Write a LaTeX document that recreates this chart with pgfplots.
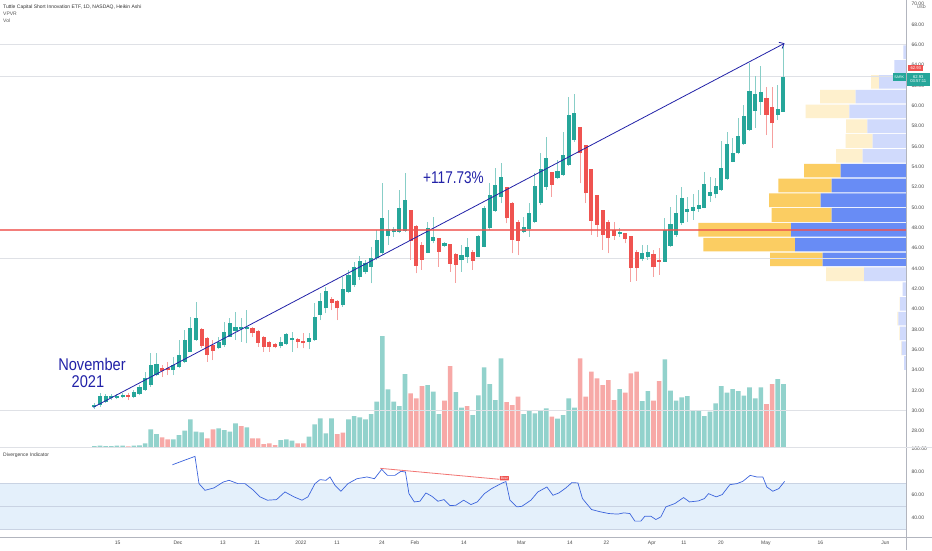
\documentclass[border=0pt]{standalone}
\usepackage{fontspec}
\setmainfont{Liberation Sans}
\usepackage{pgfplots}
\pgfplotsset{compat=1.18}
\usepackage{pgfplotstable}
\usetikzlibrary{arrows.meta}

\definecolor{tvgreen}{HTML}{26A69A}
\definecolor{tvred}{HTML}{EF5350}
\definecolor{volteal}{HTML}{92D2CC}
\definecolor{volpink}{HTML}{F7A9A7}
\definecolor{trendblue}{HTML}{2222A8}
\definecolor{indblue}{HTML}{3C64DC}
\definecolor{bandblue}{HTML}{E4F0FB}
\definecolor{bandline}{HTML}{C9D3E3}
\definecolor{vpbd}{HTML}{688CF5}
\definecolor{vpbl}{HTML}{D0DAFC}
\definecolor{vpyd}{HTML}{FBCD62}
\definecolor{vpyl}{HTML}{FEF0CD}
\definecolor{lgrey}{HTML}{DFE1E6}
\definecolor{axgrey}{HTML}{B2B5BE}
\definecolor{lblgrey}{HTML}{4A4A4A}

\newcommand{\tv}{\fontsize{5}{6}\selectfont}

% i lo hi bodylo bodyhi
\pgfplotstableread{
i lo hi bl bh
0 30.21 30.74 30.34 30.57
1 30.41 31.72 30.57 31.46
2 30.80 31.65 30.90 31.46
3 31.06 31.65 31.23 31.46
4 31.13 31.65 31.29 31.46
5 31.23 31.72 31.39 31.56
7 31.23 32.05 31.39 31.88
8 31.52 32.54 31.65 32.38
9 31.98 33.85 32.05 33.19
10 32.38 35.65 32.54 34.51
11 33.42 35.65 33.52 34.60
14 33.52 35.32 34.01 34.51
15 34.18 36.96 34.28 35.49
16 34.67 37.95 34.83 36.96
17 35.82 39.26 35.82 38.11
18 36.90 40.73 36.96 39.09
22 36.05 37.29 36.14 36.80
23 36.31 38.77 36.47 37.78
24 37.23 39.09 37.29 38.60
25 36.96 39.75 37.88 38.27
26 36.80 39.09 38.01 38.21
27 36.64 39.91 38.01 38.27
33 36.14 37.29 36.37 36.80
34 36.47 37.62 36.57 37.55
35 35.82 37.78 36.96 37.13
38 36.05 37.62 36.80 37.13
39 36.90 40.57 36.96 39.26
40 38.93 41.55 39.42 40.80
41 39.59 42.21 40.08 41.81
44 40.24 43.19 40.41 41.95
45 41.55 43.85 41.72 43.36
46 42.21 44.67 42.37 44.17
47 42.86 45.22 43.19 44.77
48 43.45 44.83 43.68 44.50
49 42.54 46.14 44.17 45.00
50 44.83 47.78 45.00 46.80
51 45.32 52.37 45.49 48.93
52 46.31 49.75 47.19 47.88
53 47.13 48.11 47.55 47.85
54 47.45 51.71 47.62 49.91
55 47.62 53.35 47.72 50.73
59 45.49 48.60 45.55 47.95
60 46.47 49.09 46.73 47.13
62 46.14 46.63 46.24 46.47
65 43.68 46.31 44.83 45.32
66 44.50 46.96 45.09 46.08
68 45.09 47.26 45.16 47.19
69 46.08 50.14 46.14 49.91
70 47.78 52.37 47.95 51.22
71 49.58 53.90 49.68 52.21
72 50.40 54.40 51.00 53.02
76 47.45 49.09 47.62 48.04
77 47.13 50.41 47.85 49.42
78 48.44 53.36 48.60 52.11
79 50.24 55.32 50.41 53.75
80 51.72 56.96 52.05 54.83
82 52.77 54.67 52.93 53.59
83 53.09 57.45 53.19 55.16
84 54.08 60.89 54.18 59.09
85 56.47 61.16 56.63 59.26
93 47.13 47.95 47.39 47.62
97 44.77 46.31 44.90 45.56
98 44.83 46.31 45.16 45.59
101 44.67 48.93 44.67 47.78
102 46.14 50.08 46.21 48.37
103 47.13 51.22 47.29 49.49
104 48.27 52.04 48.44 50.96
105 48.60 51.06 49.59 49.82
106 48.77 51.29 49.65 50.08
107 49.59 51.72 49.85 50.24
108 49.91 53.52 49.98 52.27
109 50.57 53.03 51.16 51.55
110 50.90 52.86 51.29 52.14
111 51.62 56.53 51.72 53.85
112 52.70 57.45 52.80 56.21
113 54.44 56.80 54.50 55.32
114 55.22 58.76 55.32 57.03
115 56.14 60.07 56.21 59.02
116 57.52 64.17 57.62 61.45
117 57.85 62.96 59.48 61.12
118 59.09 63.94 60.40 61.32
121 58.60 62.04 59.09 59.65
122 59.42 66.10 59.42 62.86
}\greencandles

\pgfplotstableread{
i lo hi bl bh
6 31.06 31.72 31.39 31.52
12 33.36 34.51 33.92 34.18
13 33.52 34.83 34.01 34.18
19 36.14 38.11 36.37 38.01
20 34.83 37.29 35.49 37.19
21 34.99 36.96 35.88 36.47
28 37.29 38.21 37.62 38.11
29 36.31 37.95 36.70 37.88
30 35.82 37.36 36.31 37.29
31 35.82 36.90 36.24 36.80
32 36.14 36.64 36.24 36.57
36 36.14 37.13 36.80 37.03
37 36.14 37.62 36.64 36.90
42 39.91 41.23 40.64 40.96
43 38.93 40.90 40.08 40.83
56 44.83 49.75 46.73 49.75
57 43.52 48.27 44.24 48.17
58 43.85 46.63 44.83 46.31
61 44.17 46.96 45.65 46.96
63 43.68 46.40 44.44 46.40
64 42.60 45.49 44.34 45.42
67 43.85 45.81 44.77 45.65
73 48.44 52.04 48.93 51.98
74 45.49 50.57 46.80 50.47
75 45.32 48.76 46.73 48.60
81 51.06 53.52 52.21 53.52
86 52.37 57.94 55.32 57.94
87 50.41 56.14 51.39 56.14
88 47.29 53.75 48.70 53.75
89 47.13 51.23 48.28 51.23
90 45.82 49.75 47.29 49.75
91 45.49 48.77 46.96 48.60
92 46.80 48.60 47.23 47.78
94 46.47 47.52 46.87 47.52
95 42.70 47.19 44.02 47.19
96 42.80 45.82 44.02 45.59
99 43.20 45.82 44.11 45.39
100 43.36 45.98 44.67 44.83
119 57.12 61.88 59.09 60.79
120 55.88 61.88 58.27 59.91
}\redcandles

\pgfplotstableread{
i h
0 1.3
1 1.7
2 1.3
3 1.3
4 1.7
5 1.7
7 1.7
8 2.0
9 4.0
10 18
11 13.3
14 8
15 12.3
16 16.7
17 28
18 15.7
19 15
22 19
23 17.3
24 15.7
25 24
27 20
33 7.3
34 8
35 6.7
38 10.7
39 23
40 29
41 14
42 29
45 28
46 31.3
47 30
48 28
49 33.3
50 45.7
51 111.3
52 58
53 45.7
54 41.3
55 73.3
59 62.3
60 55.7
61 33.3
64 55.3
65 39.7
67 32.3
68 52
69 80
70 63.3
71 47.3
72 89
76 33.3
77 36.3
78 34
79 36.3
80 39
82 28.7
83 32.3
84 49
85 39.7
93 58.3
97 46.3
98 56.3
101 88
102 56.7
103 46.7
104 50
105 51.3
106 37.3
107 36.3
108 31.3
109 35.7
110 44
111 61.3
112 54.7
113 58.3
114 56.3
115 51.7
116 60
117 49
118 60
121 68.3
122 63.3
}\volup

\pgfplotstableread{
i h
6 1.0
12 10
13 8
20 9
21 18
26 21.3
28 9
29 9
30 3.3
31 4
32 2.3
36 4
37 4
43 13.3
44 14.7
56 54
57 49
58 61.3
62 46.7
63 81.3
66 41.3
73 45.3
74 42.3
75 50.7
81 30.7
86 89
87 50.7
88 75.7
89 69
90 62.3
91 67.3
92 47.3
94 54.7
95 74
96 75.7
99 46.7
100 66.3
119 43.3
120 63.3
}\voldown

% volume profile rows: price centre, up/down volume (dark = value area, light = outside)
\pgfplotstableread{
p bd bl yd yl
65.26 0 2.7 0 0
63.81 0 11.7 0 0
62.35 0 27 0 8
60.89 0 50.3 0 35.7
59.44 0 56.7 0 43.6
57.98 0 38.7 0 21.3
56.53 0 33.3 0 27
55.07 0 43.5 0 26.5
53.62 65.5 0 36.5 0
52.16 74.3 0 53.4 0
50.71 85.3 0 51.7 0
49.25 74.3 0 60 0
47.80 115 0 92.7 0
46.34 111 0 91.7 0
44.89 83.3 0 52.7 0
43.43 0 42 0 38
41.97 0 3.3 0 0
40.52 0 6 0 0.5
39.06 0 7.7 0 1
37.61 0 6 0 0.7
36.15 0 4.3 0 0.7
34.70 0 2 0 0
}\vpvr

\pgfplotsset{tvbase/.style={scale only axis, anchor=south west, width=906pt,
  xmin=-16.7, xmax=143.7},
  candle/.style={draw=none, mark=none, error bars/.cd, y dir=plus, y explicit,
  error mark=none, error bar style={draw=#1, line width=4.1pt}},
  wick/.style={draw=none, mark=none, error bars/.cd, y dir=plus, y explicit,
  error mark=none, error bar style={draw=#1, line width=0.9pt}}}

\begin{document}
\begin{tikzpicture}[x=1pt,y=1pt]
\useasboundingbox (0,0) rectangle (932,550);
\fill[white] (0,0) rectangle (932,550);

% ---------- volume overlay ----------
\begin{axis}[tvbase, at={(0pt,102.7pt)}, height=447.3pt, ymin=0, ymax=447.3,
  hide axis, ybar, bar width=0.82, bar shift=0pt]
\addplot[fill=volteal, draw=none] table[x=i, y=h] {\volup};
\addplot[fill=volpink, draw=none] table[x=i, y=h] {\voldown};
\end{axis}

% ---------- visible range volume profile ----------
\begin{axis}[scale only axis, anchor=south west, width=906pt, at={(0pt,102.7pt)},
  height=447.3pt, xmin=0, xmax=906, x dir=reverse, ymin=26.413, ymax=70.395,
  hide axis, xbar stacked, bar width=1.34]
\addplot[fill=vpbd, draw=none] table[x=bd, y=p] {\vpvr};
\addplot[fill=vpbl, draw=none] table[x=bl, y=p] {\vpvr};
\addplot[fill=vpyd, draw=none] table[x=yd, y=p] {\vpvr};
\addplot[fill=vpyl, draw=none] table[x=yl, y=p] {\vpvr};
\end{axis}

% ---------- price pane ----------
\begin{axis}[tvbase, at={(0pt,102.7pt)}, height=447.3pt, ymin=26.413, ymax=70.395,
  axis x line=none, axis y line*=right,
  y axis line style={draw=axgrey, line width=0.6pt},
  ytick={28,30,...,70}, major tick length=0pt,
  yticklabel style={font=\tv, text=lblgrey, anchor=west, xshift=2pt,
    /pgf/number format/.cd, fixed, fixed zerofill, precision=2, assume math mode=true}]
\addplot[lgrey, line width=0.7pt] coordinates {(-16.7,66) (143.7,66)};
\addplot[lgrey, line width=0.7pt] coordinates {(-16.7,62.92) (143.7,62.92)};
\addplot[lgrey, line width=0.7pt] coordinates {(-16.7,45.0) (143.7,45.0)};
\addplot[lgrey, line width=0.7pt] coordinates {(-16.7,30.0) (143.7,30.0)};
% wicks
\addplot[wick=tvgreen!55] table[x=i, y=lo, y error expr=\thisrow{hi}-\thisrow{lo}] {\greencandles};
\addplot[wick=tvred!55] table[x=i, y=lo, y error expr=\thisrow{hi}-\thisrow{lo}] {\redcandles};
% bodies
\addplot[candle=tvgreen] table[x=i, y=bl, y error expr=\thisrow{bh}-\thisrow{bl}] {\greencandles};
\addplot[candle=tvred] table[x=i, y=bl, y error expr=\thisrow{bh}-\thisrow{bl}] {\redcandles};
% trend line
\addplot[trendblue, line width=0.8pt, -{Straight Barb[length=4pt,width=7pt]}]
  coordinates {(-0.18,30.35) (122.2,66.14)};
% horizontal level
\addplot[tvred, opacity=0.75, line width=1.1pt] coordinates {(-16.7,47.78) (143.7,47.78)};
\end{axis}

% ---------- divergence indicator pane ----------
\begin{axis}[tvbase, at={(0pt,12.7pt)}, height=90pt, ymin=23.04, ymax=101.3,
  axis x line*=bottom, axis y line*=right,
  axis line style={draw=axgrey, line width=0.6pt},
  major tick length=0pt,
  xtick={4.11,14.81,22.78,28.88,36.58,42.96,50.92,56.76,65.43,75.61,84.19,90.65,98.71,104.37,110.92,118.88,128.53,140.04},
  xticklabels={15,Dec,13,21,2022,11,24,Feb,14,Mar,14,22,Apr,11,20,May,16,Jun},
  xticklabel style={font=\tv, text=lblgrey, anchor=base, yshift=-7.5pt},
  ytick={40,60,80,100},
  yticklabel style={font=\tv, text=lblgrey, anchor=west, xshift=2pt,
    /pgf/number format/.cd, fixed, fixed zerofill, precision=2, assume math mode=true}]
\addplot[fill=bandblue, draw=none] coordinates {(-16.7,30) (143.7,30) (143.7,70) (-16.7,70)} -- cycle;
\addplot[bandline, line width=0.6pt] coordinates {(-16.7,70) (143.7,70)};
\addplot[bandline, line width=0.6pt] coordinates {(-16.7,50) (143.7,50)};
\addplot[bandline, line width=0.6pt] coordinates {(-16.7,30) (143.7,30)};
\addplot[indblue, line width=0.7pt] coordinates {
(13.82,86.1) (15.88,89.9) (17.82,93.4) (18.53,69.7) (19.59,63.9) (21.19,66)
(22.78,71) (23.84,72.6) (25.43,69.7) (26.67,69.7) (28.04,64.5) (29.33,58.2)
(30.65,55.3) (32.25,55.8) (33.75,62.5) (35.35,58.2) (36.76,55.3) (37.82,58.2)
(39.06,69.7) (39.95,73.2) (41.01,72.6) (41.72,75.5) (42.6,68.3) (43.66,63.1)
(44.9,69.7) (46.5,74) (48.27,75.5) (49.59,74) (50.87,82.1) (51.91,76.9)
(53.22,76.9) (54.28,80.4) (55.08,79.8) (55.7,61) (56.65,53.8) (57.65,54.4)
(58.7,61.6) (59.77,58.7) (60.83,54.4) (61.89,55.8) (62.96,50.6) (64.02,50.9)
(65.38,55.3) (66.67,51.5) (67.8,53.8) (69.06,61) (70.34,65.4) (72.23,70.3)
(72.87,71.5) (73.58,55.3) (74.81,49.5) (75.7,50) (77.29,55.3) (78.53,62.5)
(80.12,66.8) (81.19,59.6) (82.25,61.6) (83.49,66) (84.55,70.6) (85.62,70.3)
(86.42,56.7) (88.02,47.2) (89.59,45.2) (91.1,43.7) (92.69,43.2) (93.75,44.3)
(94.81,43.7) (95.7,37.1) (96.76,37.1) (97.47,41.4) (98.53,41.4) (99.42,38.5)
(100.3,40.8) (101.19,49.5) (102.78,52.4) (104.32,57.6) (105.38,53.8) (106.96,54.7)
(108.0,56.7) (108.74,61) (110.1,58.2) (111.17,60.2) (112.51,68.8) (113.75,69.7)
(114.81,71.7) (116.11,76.9) (117.29,75.5) (118.35,75.5) (119.06,66.8) (120.12,63.1)
(121.19,65.4) (122.21,71.7)};
\addplot[tvred, opacity=0.8, line width=0.8pt] coordinates {(50.65,83.0) (71.7,73.5)};
\node[fill=tvred, text=white, font=\fontsize{3.4}{4}\selectfont, inner sep=1pt,
  rounded corners=0.6pt] at (axis cs:72.6,74.4) {Bear};
\end{axis}

% ---------- frame lines ----------
\draw[lgrey, line width=0.6pt] (0,102.7) -- (932,102.7);
\draw[axgrey, line width=0.6pt] (906,0) -- (906,12.7);
\draw[axgrey, line width=0.6pt] (906,12.7) -- (932,12.7);

% ---------- texts ----------
\node[anchor=west, inner sep=0pt, font=\fontsize{5}{6}\selectfont, text=black!80] at (3,542.7)
  {Tuttle Capital Short Innovation ETF, 1D, NASDAQ, Heikin Ashi};
\node[anchor=west, inner sep=0pt, font=\fontsize{5}{6}\selectfont, text=black!65] at (3,536) {VPVR};
\node[anchor=west, inner sep=0pt, font=\fontsize{5}{6}\selectfont, text=black!65] at (3,529.3) {Vol};
\node[anchor=west, inner sep=0pt, font=\fontsize{5}{6}\selectfont, text=black!75] at (3,95) {Divergence Indicator};
\node[anchor=west, inner sep=0pt, font=\fontsize{4}{5}\selectfont, text=lblgrey] at (917,542.5) {USD};

\node[anchor=base, inner sep=0pt, font=\fontsize{17}{20}\selectfont, text=trendblue, xscale=0.86] at (92,180) {November};
\node[anchor=base, inner sep=0pt, font=\fontsize{17}{20}\selectfont, text=trendblue, xscale=0.86] at (88,162.5) {2021};
\node[anchor=base, inner sep=0pt, font=\fontsize{17}{20}\selectfont, text=trendblue, xscale=0.8] at (453.5,366.7) {+117.73\%};

% price tags
\node[fill=tvred, text=white, font=\fontsize{4.2}{5}\selectfont, inner sep=0pt,
  minimum width=15pt, minimum height=6pt] at (915.8,481.7) {62.93};
\node[fill=tvgreen, text=white, font=\fontsize{4.2}{5}\selectfont, inner sep=0pt,
  minimum width=23.3pt, minimum height=13.3pt, align=center] at (918.3,470.7) {62.93\\[-0.6pt]03:57:11};
\node[fill=tvgreen, text=white, font=\fontsize{3.6}{4}\selectfont, inner sep=0pt,
  minimum width=13pt, minimum height=8.3pt] at (899.2,473.2) {SARK};
\end{tikzpicture}
\end{document}
